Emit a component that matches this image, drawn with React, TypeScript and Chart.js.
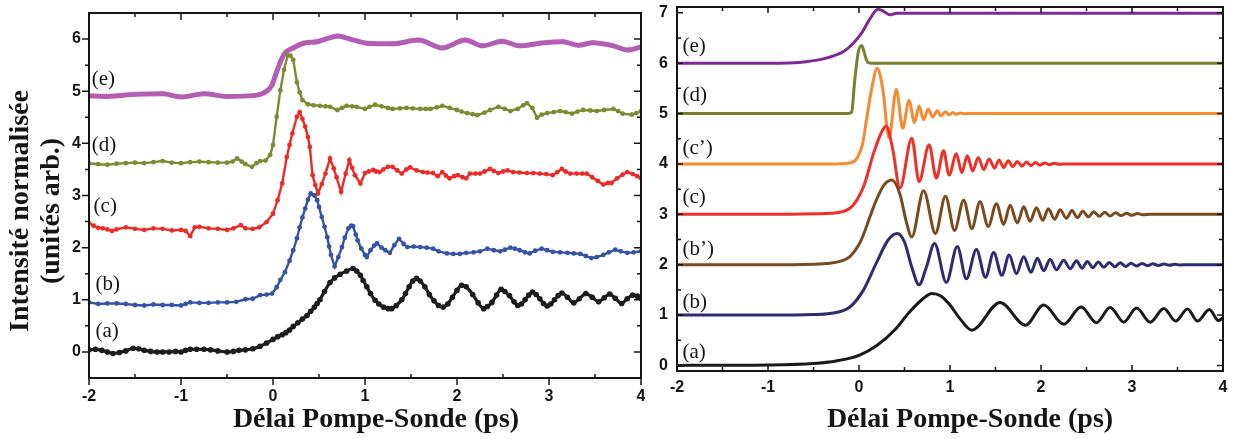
import { useEffect, useRef } from "react";
import { Chart, registerables } from "chart.js";
Chart.register(...registerables);

// ---------- axis ticks / labels ----------
const X_TICKS = [-2, -1, 0, 1, 2, 3, 4];
const X_MINOR = [-1.5, -0.5, 0.5, 1.5, 2.5, 3.5];
const Y_TICKS_LEFT = [0, 1, 2, 3, 4, 5, 6];
const Y_MINOR_LEFT = [0.5, 1.5, 2.5, 3.5, 4.5, 5.5];
const Y_TICKS_RIGHT = [0, 1, 2, 3, 4, 5, 6, 7];
const Y_MINOR_RIGHT = [0.5, 1.5, 2.5, 3.5, 4.5, 5.5, 6.5];

const X_TITLE = "Délai Pompe-Sonde (ps)";
const Y_TITLE = ["Intensité normalisée", "(unités arb.)"];
const LEFT_LABELS = ["(a)", "(b)", "(c)", "(d)", "(e)"];
const RIGHT_LABELS = ["(a)", "(b)", "(b’)", "(c)", "(c’)", "(d)", "(e)"];

// ---------- left panel (experimental, [delay ps, intensity]) ----------
const LEFT_A: [number, number][] = [[-2,0.04],[-1.93,0.05],[-1.86,0.03],[-1.8,0.0],[-1.74,-0.03],[-1.67,-0.01],[-1.6,0.02],[-1.52,0.07],[-1.46,0.06],[-1.4,0.03],[-1.33,0.01],[-1.26,0.0],[-1.2,0.0],[-1.13,0.0],[-1.06,0.01],[-1.0,0.0],[-0.95,0.03],[-0.9,0.05],[-0.83,0.05],[-0.75,0.05],[-0.68,0.04],[-0.6,0.02],[-0.5,0.0],[-0.43,0.01],[-0.37,0.03],[-0.3,0.04],[-0.22,0.06],[-0.14,0.11],[-0.07,0.17],[0.0,0.24],[0.05,0.29],[0.1,0.33],[0.14,0.37],[0.18,0.42],[0.22,0.49],[0.27,0.56],[0.32,0.63],[0.37,0.70],[0.41,0.78],[0.45,0.86],[0.48,0.93],[0.51,1.0],[0.56,1.16],[0.62,1.33],[0.67,1.42],[0.73,1.49],[0.8,1.55],[0.87,1.60],[0.91,1.55],[0.95,1.47],[0.98,1.37],[1.02,1.25],[1.06,1.12],[1.11,0.99],[1.15,0.92],[1.2,0.86],[1.25,0.83],[1.29,0.83],[1.34,0.89],[1.4,1.0],[1.44,1.12],[1.48,1.25],[1.52,1.36],[1.56,1.41],[1.6,1.36],[1.65,1.25],[1.7,1.10],[1.75,0.98],[1.8,0.89],[1.85,0.86],[1.9,0.92],[1.95,1.05],[2.0,1.18],[2.05,1.28],[2.1,1.25],[2.17,1.10],[2.23,0.94],[2.29,0.83],[2.33,0.87],[2.38,0.95],[2.43,1.09],[2.48,1.20],[2.52,1.16],[2.57,1.08],[2.62,0.96],[2.66,0.89],[2.7,0.92],[2.74,1.0],[2.78,1.09],[2.82,1.15],[2.86,1.10],[2.9,1.02],[2.94,0.93],[2.98,0.88],[3.02,0.92],[3.06,1.0],[3.1,1.08],[3.14,1.13],[3.2,1.05],[3.27,0.94],[3.33,1.02],[3.40,1.12],[3.47,1.05],[3.54,0.96],[3.6,1.04],[3.66,1.11],[3.72,1.03],[3.79,0.93],[3.85,1.02],[3.91,1.09],[3.96,1.07],[4.0,1.03]];
const LEFT_B: [number, number][] = [[-2,0.95],[-1.9,0.92],[-1.8,0.93],[-1.7,0.93],[-1.6,0.92],[-1.5,0.90],[-1.4,0.89],[-1.3,0.91],[-1.2,0.90],[-1.1,0.90],[-1.0,0.89],[-0.95,0.92],[-0.9,0.95],[-0.8,0.94],[-0.7,0.94],[-0.6,0.95],[-0.5,0.95],[-0.4,0.96],[-0.3,1.01],[-0.22,1.02],[-0.14,1.09],[-0.07,1.10],[-0.01,1.12],[0.04,1.24],[0.08,1.38],[0.13,1.53],[0.18,1.75],[0.22,1.95],[0.26,2.18],[0.29,2.39],[0.32,2.58],[0.35,2.75],[0.38,2.92],[0.41,3.04],[0.45,3.0],[0.48,2.91],[0.5,2.78],[0.53,2.59],[0.56,2.40],[0.59,2.20],[0.61,2.02],[0.63,1.86],[0.67,1.64],[0.71,1.82],[0.75,2.01],[0.78,2.19],[0.82,2.37],[0.85,2.42],[0.87,2.41],[0.9,2.25],[0.92,2.14],[0.96,1.98],[1.0,1.86],[1.02,1.82],[1.06,1.95],[1.1,2.04],[1.13,2.08],[1.18,2.0],[1.22,1.95],[1.27,1.90],[1.32,2.05],[1.37,2.17],[1.42,2.07],[1.46,2.01],[1.53,2.02],[1.6,2.01],[1.67,2.0],[1.74,1.98],[1.8,1.93],[1.89,1.89],[1.96,1.88],[2.03,1.88],[2.1,1.9],[2.18,1.91],[2.25,1.93],[2.33,1.98],[2.4,1.95],[2.47,1.93],[2.52,1.96],[2.58,2.0],[2.63,1.98],[2.68,1.95],[2.74,1.91],[2.79,1.89],[2.85,1.94],[2.92,1.98],[2.98,1.95],[3.04,1.92],[3.12,1.91],[3.2,1.90],[3.27,1.89],[3.34,1.88],[3.4,1.84],[3.46,1.80],[3.52,1.82],[3.59,1.86],[3.65,1.91],[3.72,1.96],[3.78,1.93],[3.85,1.90],[3.92,1.91],[4.0,1.93]];
const LEFT_C: [number, number][] = [[-2,2.47],[-1.95,2.42],[-1.9,2.38],[-1.85,2.37],[-1.8,2.35],[-1.75,2.32],[-1.7,2.35],[-1.6,2.39],[-1.5,2.36],[-1.4,2.34],[-1.3,2.37],[-1.2,2.36],[-1.1,2.33],[-1.0,2.34],[-0.95,2.32],[-0.9,2.22],[-0.85,2.39],[-0.8,2.40],[-0.7,2.37],[-0.6,2.36],[-0.5,2.34],[-0.43,2.37],[-0.35,2.43],[-0.3,2.37],[-0.22,2.36],[-0.15,2.39],[-0.07,2.49],[0.0,2.65],[0.05,2.91],[0.10,3.23],[0.15,3.74],[0.18,3.97],[0.21,4.19],[0.26,4.51],[0.29,4.60],[0.32,4.47],[0.35,4.32],[0.38,4.12],[0.40,3.93],[0.43,3.39],[0.46,3.2],[0.49,3.04],[0.53,3.22],[0.57,3.42],[0.62,3.71],[0.66,3.52],[0.69,3.35],[0.74,3.07],[0.79,3.42],[0.83,3.68],[0.86,3.53],[0.89,3.39],[0.95,3.23],[1.0,3.43],[1.04,3.46],[1.09,3.49],[1.12,3.46],[1.16,3.45],[1.2,3.5],[1.25,3.55],[1.30,3.55],[1.35,3.48],[1.40,3.42],[1.45,3.5],[1.49,3.54],[1.56,3.48],[1.63,3.45],[1.68,3.44],[1.74,3.43],[1.79,3.37],[1.84,3.45],[1.88,3.38],[1.92,3.33],[1.97,3.37],[2.01,3.39],[2.06,3.35],[2.10,3.33],[2.14,3.42],[2.2,3.42],[2.25,3.42],[2.3,3.46],[2.36,3.51],[2.4,3.47],[2.45,3.43],[2.5,3.46],[2.55,3.48],[2.61,3.45],[2.68,3.44],[2.76,3.43],[2.83,3.43],[2.90,3.42],[2.97,3.41],[3.04,3.39],[3.09,3.45],[3.14,3.51],[3.18,3.46],[3.23,3.42],[3.3,3.42],[3.36,3.42],[3.41,3.42],[3.47,3.35],[3.53,3.28],[3.59,3.21],[3.64,3.24],[3.68,3.24],[3.74,3.33],[3.8,3.40],[3.85,3.45],[3.91,3.41],[3.96,3.37],[4.0,3.33]];
const LEFT_D: [number, number][] = [[-2,3.62],[-1.9,3.60],[-1.8,3.59],[-1.7,3.61],[-1.6,3.62],[-1.5,3.63],[-1.4,3.62],[-1.3,3.64],[-1.2,3.66],[-1.1,3.63],[-1.0,3.62],[-0.9,3.64],[-0.8,3.65],[-0.7,3.64],[-0.6,3.63],[-0.5,3.63],[-0.44,3.65],[-0.39,3.71],[-0.34,3.65],[-0.3,3.60],[-0.23,3.55],[-0.18,3.62],[-0.14,3.66],[-0.08,3.67],[-0.03,3.78],[0.0,3.97],[0.04,4.51],[0.08,5.02],[0.12,5.41],[0.16,5.69],[0.19,5.68],[0.22,5.60],[0.26,5.17],[0.29,4.98],[0.32,4.83],[0.38,4.75],[0.44,4.73],[0.51,4.72],[0.57,4.71],[0.62,4.70],[0.70,4.64],[0.75,4.68],[0.80,4.72],[0.86,4.71],[0.91,4.70],[1.0,4.66],[1.05,4.70],[1.11,4.74],[1.18,4.71],[1.25,4.68],[1.30,4.66],[1.38,4.67],[1.45,4.68],[1.52,4.67],[1.60,4.66],[1.66,4.66],[1.71,4.66],[1.78,4.69],[1.84,4.72],[1.92,4.68],[2.0,4.64],[2.05,4.61],[2.11,4.58],[2.17,4.56],[2.22,4.54],[2.3,4.59],[2.36,4.64],[2.45,4.70],[2.52,4.66],[2.58,4.62],[2.66,4.66],[2.72,4.73],[2.76,4.77],[2.82,4.68],[2.87,4.49],[2.92,4.55],[2.98,4.58],[3.05,4.6],[3.12,4.62],[3.18,4.6],[3.25,4.57],[3.31,4.61],[3.37,4.64],[3.45,4.63],[3.52,4.62],[3.6,4.64],[3.70,4.66],[3.75,4.62],[3.80,4.57],[3.90,4.55],[3.95,4.58],[4.0,4.62]];
const LEFT_E: [number, number][] = [[-2,4.91],[-1.8,4.90],[-1.5,4.94],[-1.2,4.95],[-1.0,4.89],[-0.75,4.95],[-0.5,4.90],[-0.2,4.92],[-0.07,5.0],[-0.01,5.12],[0.02,5.27],[0.08,5.56],[0.13,5.73],[0.22,5.83],[0.33,5.92],[0.48,5.95],[0.59,6.01],[0.70,6.06],[0.84,6.0],[1.02,5.92],[1.30,5.91],[1.58,5.98],[1.84,5.83],[2.09,5.98],[2.28,5.87],[2.49,5.96],[2.68,5.87],[2.90,5.92],[3.15,5.95],[3.32,5.88],[3.48,5.93],[3.68,5.88],[3.86,5.79],[4.0,5.85]];

// ---------- right panel (simulation, [delay ps, intensity]) ----------
const RIGHT_A: [number, number][] = [[-2,0],[-1.5,0.005],[-1,0.01],[-0.5,0.04],[-0.25,0.09],[0,0.2],[0.2,0.4],[0.4,0.72],[0.55,1.05],[0.7,1.32],[0.8,1.43],[0.9,1.38],[1.0,1.2],[1.1,0.95],[1.24,0.70],[1.55,1.25],[1.83,0.80],[2.03,1.20],[2.25,0.82],[2.44,1.16],[2.61,0.85],[2.76,1.15],[2.91,0.86],[3.05,1.14],[3.20,0.86],[3.35,1.13],[3.48,0.88],[3.61,1.12],[3.72,0.88],[3.85,1.11],[3.95,0.89],[4.0,0.95]];
const RIGHT_B: [number, number][] = [[-2,1],[-1,1],[-0.5,1.01],[-0.32,1.03],[-0.1,1.16],[0.05,1.5],[0.19,2.03],[0.32,2.49],[0.42,2.62],[0.5,2.45],[0.58,1.95],[0.66,1.60],[0.74,1.95],[0.83,2.42],[0.96,1.65],[1.08,2.36],[1.18,1.72],[1.29,2.30],[1.39,1.75],[1.48,2.24],[1.57,1.79],[1.65,2.19],[1.73,1.82],[1.81,2.16],[1.89,1.85],[1.96,2.13],[2.03,1.88],[2.10,2.11],[2.17,1.90],[2.25,2.09],[2.32,1.92],[2.39,2.08],[2.45,1.93],[2.51,2.065],[2.57,1.94],[2.63,2.055],[2.69,1.95],[2.75,2.045],[2.81,1.96],[2.87,2.04],[2.93,1.965],[2.99,2.03],[3.05,1.975],[3.11,2.025],[3.17,1.98],[3.23,2.02],[3.29,1.985],[3.35,2.012],[3.41,1.99],[3.47,2.008],[3.53,1.995],[3.6,2],[4,2]];
const RIGHT_B2: [number, number][] = [[-2,2],[-1,2],[-0.5,2.01],[-0.32,2.03],[-0.2,2.07],[-0.1,2.16],[0,2.4],[0.05,2.6],[0.12,2.95],[0.19,3.28],[0.27,3.57],[0.36,3.68],[0.45,3.4],[0.52,2.85],[0.58,2.55],[0.71,3.47],[0.84,2.62],[0.95,3.36],[1.05,2.68],[1.15,3.28],[1.24,2.72],[1.33,3.25],[1.42,2.76],[1.51,3.21],[1.59,2.80],[1.66,3.18],[1.74,2.83],[1.81,3.15],[1.88,2.86],[1.95,3.13],[2.02,2.88],[2.08,3.11],[2.15,2.90],[2.21,3.09],[2.28,2.92],[2.34,3.075],[2.40,2.935],[2.46,3.06],[2.52,2.95],[2.58,3.05],[2.64,2.96],[2.70,3.04],[2.76,2.965],[2.82,3.03],[2.88,2.975],[2.94,3.02],[3.0,2.98],[3.06,3.015],[3.12,2.99],[3.2,3.0],[4,3]];
const RIGHT_C: [number, number][] = [[-2,3],[-1,3],[-0.5,3.01],[-0.32,3.02],[-0.1,3.12],[0.05,3.55],[0.16,4.21],[0.25,4.64],[0.30,4.75],[0.37,4.3],[0.45,3.52],[0.58,4.51],[0.66,3.65],[0.77,4.38],[0.85,3.72],[0.93,4.26],[0.99,3.78],[1.07,4.20],[1.13,3.83],[1.19,4.16],[1.25,3.86],[1.31,4.13],[1.37,3.89],[1.43,4.10],[1.49,3.915],[1.54,4.08],[1.59,3.93],[1.64,4.065],[1.69,3.945],[1.74,4.05],[1.79,3.955],[1.84,4.04],[1.89,3.965],[1.94,4.03],[1.99,3.975],[2.04,4.02],[2.09,3.985],[2.14,4.012],[2.2,3.993],[2.3,4],[4,4]];
const RIGHT_C2: [number, number][] = [[-2,4],[-1,4],[-0.5,4.0],[-0.32,4.0],[-0.1,4.02],[-0.02,4.12],[0.04,4.4],[0.08,4.85],[0.14,5.5],[0.2,5.9],[0.26,5.5],[0.33,4.52],[0.41,5.48],[0.48,4.71],[0.55,5.26],[0.61,4.82],[0.66,5.15],[0.71,4.88],[0.76,5.09],[0.81,4.93],[0.86,5.055],[0.9,4.955],[0.95,5.035],[0.99,4.97],[1.03,5.02],[1.07,4.985],[1.11,5.01],[1.15,4.995],[1.2,5.0],[4,5]];
const RIGHT_D: [number, number][] = [[-2,5],[-1,5],[-0.5,5],[-0.12,5.0],[-0.08,5.03],[-0.05,5.6],[-0.01,6.2],[0.03,6.35],[0.07,6.13],[0.10,6.01],[0.14,6.0],[4,6]];
const RIGHT_E: [number, number][] = [[-2,6],[-1,6.0],[-0.58,6.03],[-0.36,6.1],[-0.17,6.23],[-0.06,6.4],[0.03,6.6],[0.12,6.88],[0.21,7.07],[0.27,7.03],[0.34,6.96],[0.41,6.99],[0.5,6.99],[4,6.99]];

const toXY = (p: [number, number][]) => p.map(([x, y]) => ({ x, y }));

const TICK_FONT = { family: "'Liberation Sans', Arial, sans-serif", weight: "bold" as const, size: 16 };
const TITLE_FONT = "bold 28px 'Liberation Serif', 'Times New Roman', serif";
const LABEL_FONT = "21px 'Liberation Serif', 'Times New Roman', serif";

const frameTicks = {
  id: "frameTicks",
  afterDraw(chart: any, _args: any, o: any) {
    const { ctx, chartArea: a } = chart;
    const xs = chart.scales.x;
    const ys = chart.scales.y;
    ctx.save();
    ctx.strokeStyle = "#151515";
    ctx.lineWidth = o.frame;
    ctx.strokeRect(a.left, a.top, a.right - a.left, a.bottom - a.top);
    ctx.lineWidth = o.tick;
    ctx.beginPath();
    for (const side of ["left", "right", "top", "bottom"]) {
      const s = o.sides[side];
      for (const kind of ["major", "minor"]) {
        const vert = side === "left" || side === "right";
        const vals = vert ? (kind === "major" ? o.yMajor : o.yMinor) : kind === "major" ? o.xMajor : o.xMinor;
        const dir = s[kind];
        if (!dir) continue;
        const len = kind === "major" ? o.majorLen : o.minorLen;
        const sg = dir === "out" ? 1 : -1;
        for (const v of vals) {
          if (side === "left") { const p = ys.getPixelForValue(v); ctx.moveTo(a.left, p); ctx.lineTo(a.left - sg * len, p); }
          else if (side === "right") { const p = ys.getPixelForValue(v); ctx.moveTo(a.right, p); ctx.lineTo(a.right + sg * len, p); }
          else if (side === "top") { const p = xs.getPixelForValue(v); ctx.moveTo(p, a.top); ctx.lineTo(p, a.top - sg * len); }
          else { const p = xs.getPixelForValue(v); ctx.moveTo(p, a.bottom); ctx.lineTo(p, a.bottom + sg * len); }
        }
      }
    }
    ctx.stroke();
    ctx.fillStyle = "#151515";
    ctx.font = LABEL_FONT;
    ctx.textAlign = "left";
    ctx.textBaseline = "middle";
    o.labels.forEach((t: string, i: number) => {
      const [x, y] = o.labelPos[i];
      ctx.fillText(t, xs.getPixelForValue(x), ys.getPixelForValue(y));
    });
    ctx.font = TITLE_FONT;
    ctx.textAlign = "center";
    ctx.textBaseline = "alphabetic";
    for (const t of o.titles) {
      ctx.save();
      ctx.translate(t.x, t.y);
      if (t.rot) ctx.rotate(-Math.PI / 2);
      ctx.fillText(t.text, 0, 0);
      ctx.restore();
    }
    ctx.restore();
  },
};

function xAxis(height: number, pad: number) {
  return {
    type: "linear" as const, min: -2, max: 4,
    afterBuildTicks: (s: any) => { s.ticks = X_TICKS.map((v) => ({ value: v })); },
    afterFit: (s: any) => { s.height = height; s.paddingLeft = 0; s.paddingRight = 0; },
    grid: { display: false, drawTicks: false },
    border: { display: false },
    ticks: { font: TICK_FONT, color: "#151515", padding: pad, maxRotation: 0, autoSkip: false, callback: (v: any) => String(v) },
  };
}
function yAxis(width: number, pad: number, min: number, max: number, ticks: number[]) {
  return {
    type: "linear" as const, min, max,
    afterBuildTicks: (s: any) => { s.ticks = ticks.map((v) => ({ value: v })); },
    afterFit: (s: any) => { s.width = width; s.paddingTop = 0; s.paddingBottom = 0; },
    grid: { display: false, drawTicks: false },
    border: { display: false },
    ticks: { font: TICK_FONT, color: "#151515", padding: pad, autoSkip: false, callback: (v: any) => String(v) },
  };
}

function dotted(data: [number, number][], color: string, smooth: boolean, bw: number, r: number) {
  return {
    data: toXY(data), borderColor: color, backgroundColor: color, borderWidth: bw,
    pointRadius: r, pointBorderWidth: 0, pointBackgroundColor: color, pointHoverRadius: 0,
    tension: smooth ? 0.4 : 0, cubicInterpolationMode: smooth ? ("monotone" as const) : ("default" as const),
  };
}
function solid(data: [number, number][], color: string) {
  return {
    data: toXY(data), borderColor: color, backgroundColor: color, borderWidth: 3,
    pointRadius: 0, pointHoverRadius: 0, tension: 0.4, cubicInterpolationMode: "monotone" as const,
  };
}

function leftConfig(): any {
  return {
    type: "line",
    data: {
      datasets: [
        dotted(LEFT_A, "#1c1c1c", true, 3.2, 2.8),
        dotted(LEFT_B, "#3453a6", false, 2.4, 2.4),
        dotted(LEFT_C, "#ec2b29", false, 2.4, 2.4),
        dotted(LEFT_D, "#7e8a30", false, 2.4, 2.4),
        dotted(LEFT_E, "#b45db5", true, 5, 2.4),
      ],
    },
    options: {
      animation: false, responsive: false, maintainAspectRatio: false,
      layout: { padding: { left: 0, right: 4, top: 13, bottom: 0 } },
      plugins: {
        legend: { display: false }, tooltip: { enabled: false },
        frameTicks: {
          frame: 2, tick: 1.5, majorLen: 7, minorLen: 4,
          xMajor: X_TICKS, xMinor: X_MINOR, yMajor: Y_TICKS_LEFT, yMinor: Y_MINOR_LEFT,
          sides: {
            left: { major: "out", minor: "out" },
            bottom: { major: "out", minor: "in" },
            top: { major: "in", minor: "in" },
            right: { major: "in", minor: "in" },
          },
          labels: LEFT_LABELS,
          labelPos: [[-1.93, 0.39], [-1.93, 1.3], [-1.95, 2.78], [-1.97, 3.95], [-1.97, 5.22]],
          titles: [
            { text: X_TITLE, x: 376, y: 427, rot: false },
            { text: Y_TITLE[0], x: 28, y: 211, rot: true },
            { text: Y_TITLE[1], x: 59, y: 211, rot: true },
          ],
        },
      },
      scales: { x: xAxis(61, 9), y: yAxis(89, 8, -0.5, 6.5, Y_TICKS_LEFT) },
    },
    plugins: [frameTicks],
  };
}

function rightConfig(): any {
  return {
    type: "line",
    data: {
      datasets: [
        solid(RIGHT_A, "#1a1a1a"),
        solid(RIGHT_B, "#2d2b72"),
        solid(RIGHT_B2, "#7a4a1f"),
        solid(RIGHT_C, "#ee3029"),
        solid(RIGHT_C2, "#f58a30"),
        solid(RIGHT_D, "#7b7f30"),
        solid(RIGHT_E, "#7d2a92"),
      ],
    },
    options: {
      animation: false, responsive: false, maintainAspectRatio: false,
      layout: { padding: { left: 0, right: 15, top: 7, bottom: 0 } },
      plugins: {
        legend: { display: false }, tooltip: { enabled: false },
        frameTicks: {
          frame: 2, tick: 1.5, majorLen: 6, minorLen: 4,
          xMajor: X_TICKS, xMinor: X_MINOR, yMajor: Y_TICKS_RIGHT, yMinor: Y_MINOR_RIGHT,
          sides: {
            left: { major: "in", minor: "in" },
            bottom: { major: "in", minor: "in" },
            top: { major: "in", minor: "in" },
            right: { major: "in", minor: "in" },
          },
          labels: RIGHT_LABELS,
          labelPos: [[-1.94, 0.26], [-1.94, 1.25], [-1.94, 2.3], [-1.94, 3.33], [-1.94, 4.3], [-1.94, 5.35], [-1.94, 6.33]],
          titles: [{ text: X_TITLE, x: 325, y: 427, rot: false }],
        },
      },
      scales: { x: xAxis(68, 7), y: yAxis(32, 9, -0.11, 7.115, Y_TICKS_RIGHT) },
    },
    plugins: [frameTicks],
  };
}

export default function App() {
  const leftRef = useRef<HTMLCanvasElement>(null);
  const rightRef = useRef<HTMLCanvasElement>(null);
  useEffect(() => {
    const c1 = new Chart(leftRef.current as HTMLCanvasElement, leftConfig());
    const c2 = new Chart(rightRef.current as HTMLCanvasElement, rightConfig());
    return () => { c1.destroy(); c2.destroy(); };
  }, []);
  return (
    <div style={{ position: "absolute", left: 0, top: 0, width: 1238, height: 439, background: "#fff" }}>
      <canvas ref={leftRef} width={645} height={439} style={{ position: "absolute", left: 0, top: 0, width: 645, height: 439 }} />
      <canvas ref={rightRef} width={593} height={439} style={{ position: "absolute", left: 645, top: 0, width: 593, height: 439 }} />
    </div>
  );
}
